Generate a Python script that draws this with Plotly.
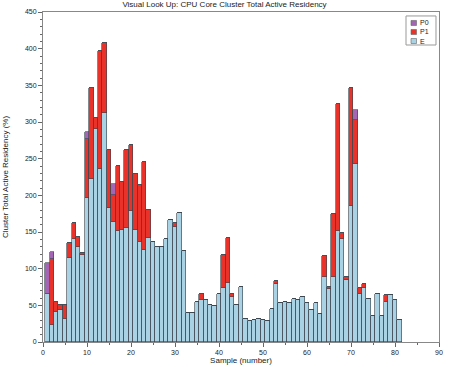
import plotly.graph_objects as go

samples = list(range(1, 82))

e_vals = [66, 23, 41, 43, 31, 115, 141, 130, 119, 196,
          222, 291, 236, 312, 183, 164, 152, 153, 156, 178,
          153, 137, 125, 142, 137, 130, 130, 140, 167, 157,
          176, 124, 39, 39, 54, 57, 57, 51, 49, 65,
          73, 81, 62, 51, 75, 32, 29, 30, 31, 30,
          28, 45, 79, 53, 55, 53, 58, 57, 61, 53,
          43, 53, 38, 88, 72, 88, 152, 140, 85, 186,
          243, 65, 73, 58, 35, 66, 35, 55, 64, 57,
          30]

p1_vals = [0, 90, 14, 8, 20, 20, 21, 13, 3, 81,
           124, 15, 161, 96, 79, 37, 88, 65, 106, 91,
           76, 77, 121, 38, 0, 0, 0, 0, 0, 5,
           0, 0, 0, 0, 0, 8, 0, 0, 0, 0,
           45, 61, 3, 0, 0, 0, 0, 0, 0, 0,
           0, 0, 4, 0, 0, 0, 0, 0, 0, 0,
           0, 0, 0, 29, 3, 86, 172, 8, 3, 160,
           60, 9, 6, 0, 0, 0, 0, 9, 0, 0,
           0]

p0_vals = [42, 10, 0, 0, 0, 0, 0, 0, 0, 10,
           0, 0, 0, 0, 0, 15, 0, 0, 0, 0,
           0, 0, 0, 0, 0, 0, 0, 0, 0, 0,
           0, 0, 0, 0, 0, 0, 0, 0, 0, 0,
           0, 0, 0, 0, 0, 0, 0, 0, 0, 0,
           0, 0, 0, 0, 0, 0, 0, 0, 0, 0,
           0, 0, 0, 0, 0, 0, 0, 0, 0, 0,
           14, 0, 0, 0, 0, 0, 0, 0, 0, 0,
           0]

series_names = ["P0", "P1", "E"]
series_colors = {"P0": "#a466b4", "P1": "#e8322a", "E": "#a9d3e4"}

FONT = "Liberation Sans, Arial, Helvetica, sans-serif"
outline = dict(color="rgba(60,70,80,0.8)", width=0.8)

fig = go.Figure()
fig.add_trace(go.Bar(x=samples, y=e_vals, name="E",
                     marker=dict(color=series_colors["E"], line=outline)))
fig.add_trace(go.Bar(x=samples, y=p1_vals, name="P1",
                     marker=dict(color=series_colors["P1"], line=outline)))
fig.add_trace(go.Bar(x=samples, y=p0_vals, name="P0",
                     marker=dict(color=series_colors["P0"], line=outline)))

# compact legend drawn in paper coordinates
shapes = [dict(type="rect", xref="paper", yref="paper",
               x0=0.9167, x1=0.9924, y0=0.900, y1=0.988,
               line=dict(color="#999", width=1), fillcolor="white", layer="above")]
annotations = []
for name, yc in zip(series_names, [0.9667, 0.9394, 0.9121]):
    shapes.append(dict(type="rect", xref="paper", yref="paper",
                       x0=0.9293, x1=0.9432, y0=yc - 0.0076, y1=yc + 0.0076,
                       line=dict(color="#666", width=0.6),
                       fillcolor=series_colors[name], layer="above"))
    annotations.append(dict(xref="paper", yref="paper", x=0.9470, y=yc,
                            xanchor="left", yanchor="middle", text=name,
                            showarrow=False,
                            font=dict(family=FONT, size=7, color="#222")))

fig.update_layout(
    width=449, height=367,
    barmode="stack", bargap=0,
    paper_bgcolor="white", plot_bgcolor="white",
    margin=dict(l=43, r=10, t=12, b=25, autoexpand=False),
    font=dict(family=FONT, size=7, color="#222"),
    title=dict(text="Visual Look Up: CPU Core Cluster Total Active Residency",
               x=0.5, xanchor="center", y=0.995, yanchor="top",
               font=dict(family=FONT, size=8, color="#222")),
    showlegend=False,
    shapes=shapes,
    annotations=annotations,
)

fig.update_xaxes(range=[0, 90], tickvals=list(range(0, 91, 10)),
                 automargin=False,
                 ticks="outside", ticklen=4, tickcolor="#666",
                 minor=dict(tickvals=list(range(5, 90, 10)), ticks="outside",
                            ticklen=2, tickcolor="#666"),
                 showline=True, linecolor="#888", linewidth=1, mirror=True,
                 showgrid=False, zeroline=False,
                 title=dict(text="Sample (number)", standoff=1,
                            font=dict(family=FONT, size=8)),
                 tickfont=dict(family=FONT, size=7))
fig.update_yaxes(range=[0, 450], tickvals=list(range(0, 451, 50)),
                 automargin=False,
                 ticks="outside", ticklen=4, tickcolor="#666",
                 minor=dict(tickvals=[v for v in range(0, 451, 10) if v % 50],
                            ticks="outside", ticklen=2, tickcolor="#666"),
                 showline=True, linecolor="#888", linewidth=1, mirror=True,
                 showgrid=False, zeroline=False,
                 title=dict(text="Cluster Total Active Residency (%)", standoff=15,
                            font=dict(family=FONT, size=8)),
                 tickfont=dict(family=FONT, size=7))

fig.write_html("out.html", config={"displayModeBar": False},
               post_script="document.body.style.margin='0';document.body.style.overflow='hidden';")
